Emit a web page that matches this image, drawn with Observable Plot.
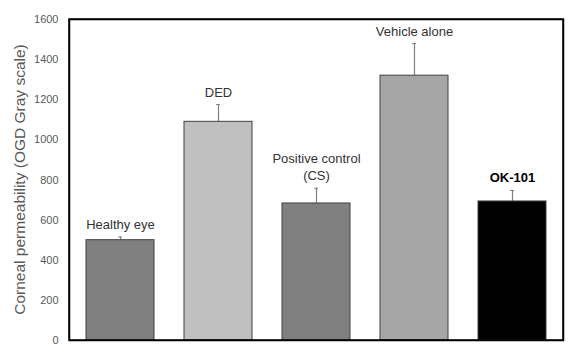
<!DOCTYPE html>
<html>
<head>
<meta charset="utf-8">
<script src="https://cdn.jsdelivr.net/npm/d3@7"></script>
<script src="https://cdn.jsdelivr.net/npm/@observablehq/plot@0.6"></script>
<style>
  html, body { margin: 0; padding: 0; background: #fff; }
  #chart svg { display: block; }
</style>
</head>
<body>
<div id="chart"></div>
<script>
const groups = ["Healthy eye", "DED", "Positive control\n(CS)", "Vehicle alone", "OK-101"];
const means = [500, 1090, 683, 1320, 693];
const errors = [16, 86, 76, 160, 55];
const fills = ["#808080", "#c0c0c0", "#808080", "#a6a6a6", "#000000"];
const bold = [false, false, false, false, true];
const yTicks = [0, 200, 400, 600, 800, 1000, 1200, 1400, 1600];

const data = groups.map((g, i) => ({
  group: g, mean: means[i], top: means[i] + errors[i], fill: fills[i], bold: bold[i]
}));

const font = "Liberation Sans, Arial, sans-serif";
const W = 576, H = 352, mL = 69, mR = 13, mT = 19, mB = 12;

const chart = Plot.plot({
  width: W,
  height: H,
  marginLeft: mL,
  marginRight: mR,
  marginTop: mT,
  marginBottom: mB,
  style: { fontFamily: font, background: "#fff" },
  x: { domain: groups, paddingInner: 0.31, paddingOuter: 0.155, axis: null },
  y: { domain: [0, 1600], label: null },
  marks: [
    Plot.axisY({
      ticks: yTicks, tickSize: 0, tickPadding: 11, fontSize: 11, color: "#595959",
      tickFormat: d => String(d), label: null
    }),
    Plot.ruleX(data, { x: "group", y1: "mean", y2: "top", stroke: "#808080", strokeWidth: 1.2 }),
    Plot.tickY(data, { x: "group", y: "top", stroke: "#808080", strokeWidth: 1, inset: 32 }),
    Plot.barY(data, { x: "group", y: "mean", fill: "fill", stroke: "#404040", strokeWidth: 1 }),
    Plot.frame({ stroke: "#000", strokeWidth: 1.5 }),
    Plot.text(data.filter(d => !d.bold), {
      x: "group", y: "top", text: "group", dy: -8, lineAnchor: "bottom",
      fontSize: 13, fill: "#333", lineHeight: 1.3
    }),
    Plot.text(data.filter(d => d.bold), {
      x: "group", y: "top", text: "group", dy: -8, lineAnchor: "bottom",
      fontSize: 13, fontWeight: "bold", fill: "#000"
    })
  ]
});

const svg = d3.select(chart);

// Plot-area border drawn as a filled ring (in addition to Plot.frame)
const x0 = mL - 0.75, y0 = mT - 0.75, x1 = W - mR + 0.75, y1 = H - mB + 0.75, t = 1.5;
svg.append("path")
  .attr("fill", "#000")
  .attr("fill-rule", "evenodd")
  .attr("d",
    `M${x0},${y0}H${x1}V${y1}H${x0}Z ` +
    `M${x0 + t},${y0 + t}V${y1 - t}H${x1 - t}V${y0 + t}Z`);

svg.append("text")
  .attr("transform", `translate(21, ${(mT + H - mB) / 2}) rotate(-90)`)
  .attr("text-anchor", "middle")
  .attr("dominant-baseline", "middle")
  .attr("font-family", font)
  .attr("font-size", 15.5)
  .attr("fill", "#595959")
  .text("Corneal permeability (OGD Gray scale)");

document.getElementById("chart").appendChild(chart);
</script>
</body>
</html>
